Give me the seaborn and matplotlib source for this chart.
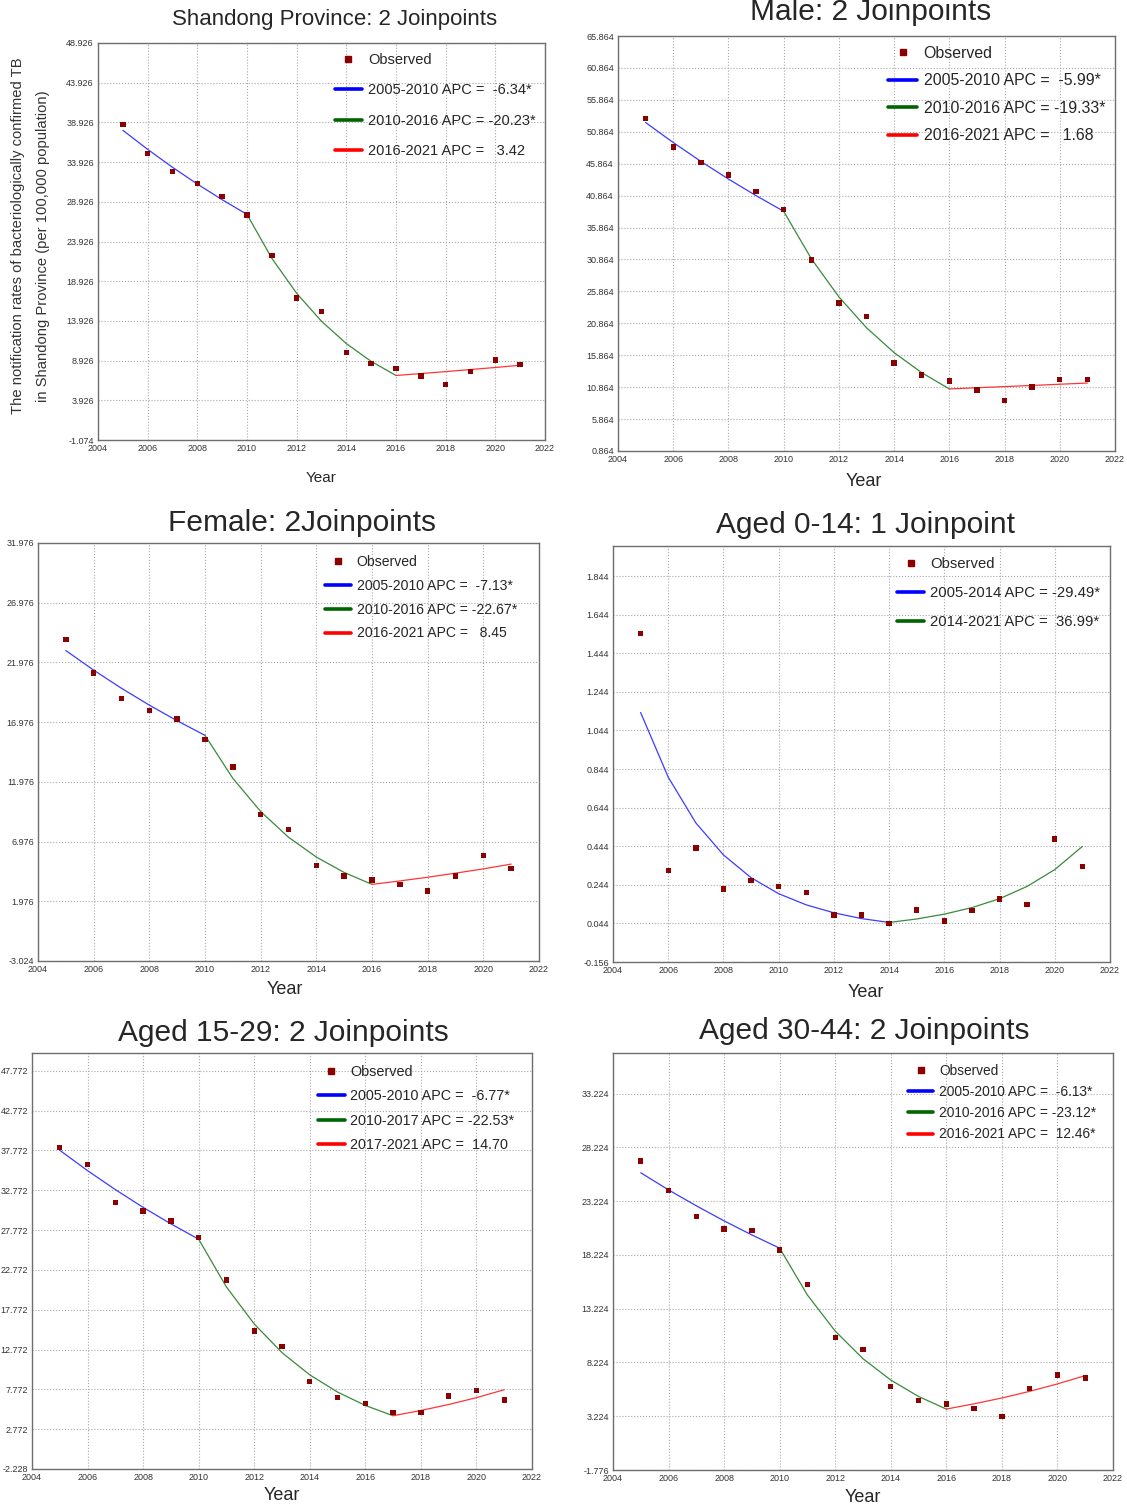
import numpy as np
import pandas as pd
import matplotlib
matplotlib.use('Agg')
import matplotlib.pyplot as plt
import seaborn as sns
from matplotlib.lines import Line2D

sns.set_style('white')
plt.rcParams['font.family'] = ['Liberation Sans', 'DejaVu Sans']

years = list(range(2005, 2022))

# observed rates (per 100,000)
obs_total = [38.69, 35.03, 32.75, 31.23, 29.59, 27.27, 22.14, 16.79, 15.10, 9.92, 8.53, 7.90, 6.97, 5.88, 7.56, 8.99, 8.45]
obs_male = [52.99, 48.50, 46.05, 44.07, 41.46, 38.65, 30.77, 24.05, 21.91, 14.67, 12.74, 11.85, 10.44, 8.77, 10.86, 12.11, 12.06]
obs_female = [23.92, 21.10, 18.95, 17.95, 17.25, 15.52, 13.21, 9.22, 7.99, 4.98, 4.09, 3.75, 3.39, 2.84, 4.09, 5.79, 4.70]
obs_0_14 = [1.545, 0.317, 0.434, 0.223, 0.267, 0.235, 0.204, 0.087, 0.087, 0.042, 0.114, 0.056, 0.112, 0.171, 0.142, 0.481, 0.340]
obs_15_29 = [38.16, 36.03, 31.23, 30.18, 28.93, 26.80, 21.50, 15.10, 13.14, 8.72, 6.75, 5.96, 4.83, 4.83, 6.92, 7.59, 6.42]
obs_30_44 = [26.94, 24.19, 21.77, 20.63, 20.50, 18.68, 15.46, 10.53, 9.42, 5.99, 4.69, 4.35, 3.97, 3.20, 5.83, 7.07, 6.79]

# fitted (joinpoint model) values
fit_total = [37.93, 35.53, 33.27, 31.16, 29.19, 27.34, 21.81, 17.40, 13.88, 11.07, 8.83, 7.05, 7.29, 7.54, 7.80, 8.06, 8.34]
fit_male = [52.31, 49.18, 46.23, 43.46, 40.86, 38.41, 30.99, 25.00, 20.17, 16.27, 13.13, 10.59, 10.77, 10.95, 11.13, 11.32, 11.51]
fit_female = [22.97, 21.33, 19.81, 18.40, 17.09, 15.87, 12.27, 9.49, 7.34, 5.68, 4.39, 3.39, 3.68, 3.99, 4.33, 4.69, 5.09]
fit_0_14 = [1.137, 0.802, 0.565, 0.399, 0.281, 0.198, 0.140, 0.099, 0.069, 0.049, 0.067, 0.092, 0.126, 0.172, 0.236, 0.323, 0.443]
fit_15_29 = [37.79, 35.23, 32.85, 30.62, 28.55, 26.62, 20.62, 15.98, 12.38, 9.59, 7.43, 5.75, 4.46, 5.12, 5.87, 6.73, 7.72]
fit_30_44 = [25.86, 24.27, 22.79, 21.39, 20.08, 18.85, 14.49, 11.14, 8.57, 6.59, 5.06, 3.89, 4.38, 4.92, 5.54, 6.23, 7.00]

titles = ['Shandong Province: 2 Joinpoints', 'Male: 2 Joinpoints', 'Female: 2Joinpoints',
          'Aged 0-14: 1 Joinpoint', 'Aged 15-29: 2 Joinpoints', 'Aged 30-44: 2 Joinpoints']
joinpoints = [[2005, 2010, 2016, 2021], [2005, 2010, 2016, 2021], [2005, 2010, 2016, 2021],
              [2005, 2014, 2021], [2005, 2010, 2017, 2021], [2005, 2010, 2016, 2021]]
seg_labels = [
    ['2005-2010 APC =  -6.34*', '2010-2016 APC = -20.23*', '2016-2021 APC =   3.42'],
    ['2005-2010 APC =  -5.99*', '2010-2016 APC = -19.33*', '2016-2021 APC =   1.68'],
    ['2005-2010 APC =  -7.13*', '2010-2016 APC = -22.67*', '2016-2021 APC =   8.45'],
    ['2005-2014 APC = -29.49*', '2014-2021 APC =  36.99*'],
    ['2005-2010 APC =  -6.77*', '2010-2017 APC = -22.53*', '2017-2021 APC =  14.70'],
    ['2005-2010 APC =  -6.13*', '2010-2016 APC = -23.12*', '2016-2021 APC =  12.46*'],
]
observed = [obs_total, obs_male, obs_female, obs_0_14, obs_15_29, obs_30_44]
fitted = [fit_total, fit_male, fit_female, fit_0_14, fit_15_29, fit_30_44]

# layout in pixels: axes box (left, top, right, bottom), y range, tick step
W, H = 1127, 1508
boxes = [(98, 43, 545, 440), (618, 36, 1115, 451), (38, 543, 539, 961),
         (613, 546, 1110, 962), (32, 1053, 532, 1469), (613, 1053, 1113, 1470)]
ylims = [(-1.074, 48.926), (0.864, 65.864), (-3.024, 31.976),
         (-0.156, 2.0), (-2.228, 50.0), (-1.776, 37.0)]
ysteps = [5, 5, 5, 0.2, 5, 5]
title_pos = [(335, 20), (871, 12), (302, 523), (866, 525), (283, 1033), (864, 1031)]
title_size = [16, 21.5, 21.5, 21.5, 21.5, 21.5]
year_pos = [(321, 478), (864, 481), (285, 989), (866, 993), (282, 1495), (863, 1498)]
# legend: handle left x, top y, font size, label spacing
leg_cfg = [(335, 53, 10.5, 1.12), (888, 46, 11.4, 0.78), (325, 555, 10.1, 0.7),
           (897, 557, 10.7, 1.0), (318, 1065, 10.4, 0.72), (908, 1064, 9.9, 0.52)]

seg_colors = ['#3c3cff', '#3a8a3a', '#ff3535']
leg_colors = ['#0000ff', '#006400', '#ff0000']

fig = plt.figure(figsize=(W / 100, H / 100), dpi=100)

for i in range(6):
    l, t, r, b = boxes[i]
    ax = fig.add_axes([l / W, 1 - b / H, (r - l) / W, (b - t) / H])
    obs_df = pd.DataFrame({'Year': years, 'Rate': observed[i]})
    fit_df = pd.DataFrame({'Year': years, 'Fit': fitted[i]})
    jp = joinpoints[i]
    for k in range(len(jp) - 1):
        seg = fit_df[(fit_df['Year'] >= jp[k]) & (fit_df['Year'] <= jp[k + 1])]
        sns.lineplot(data=seg, x='Year', y='Fit', color=seg_colors[k], linewidth=0.9, ax=ax)
    sns.scatterplot(data=obs_df, x='Year', y='Rate', marker='s', s=15, color='#8b0000',
                    edgecolor='none', ax=ax, zorder=5)

    lo, hi = ylims[i]
    ax.set_xlim(2004, 2022)
    ax.set_ylim(lo, hi)
    ax.set_xticks(range(2004, 2023, 2))
    yt = np.arange(lo, hi + 1e-6, ysteps[i])
    ax.set_yticks(yt)
    ax.set_yticklabels(['%.3f' % v for v in yt])
    for lab in ax.get_xticklabels() + ax.get_yticklabels():
        lab.set_fontsize(6.5)
        lab.set_color('#333333')
    ax.tick_params(length=2, pad=1, color='#777777')
    ax.grid(True, linestyle=':', color='#a8a8a8', linewidth=0.8)
    for sp in ax.spines.values():
        sp.set_color('#6e6e6e')
        sp.set_linewidth(1.0)
    ax.set_xlabel('')
    ax.set_ylabel('')

    handles = [Line2D([], [], marker='s', color='#8b0000', linestyle='none', markersize=5)]
    for k, lab in enumerate(seg_labels[i]):
        handles.append(Line2D([], [], color=leg_colors[k], linewidth=2.6))
    hx, hy, fs, ls = leg_cfg[i]
    ax.legend(handles=handles, labels=['Observed'] + seg_labels[i], loc='upper left',
              bbox_to_anchor=((hx - l) / (r - l), 1 - (hy - t) / (b - t)), frameon=False,
              prop={'size': fs}, borderpad=0, borderaxespad=0,
              handlelength=1.85, handletextpad=0.4, labelspacing=ls)

    tx, ty = title_pos[i]
    fig.text(tx / W, 1 - ty / H, titles[i], ha='center', va='center', fontsize=title_size[i])
    yx, yy = year_pos[i]
    fig.text(yx / W, 1 - yy / H, 'Year', ha='center', va='center', fontsize=11 if i == 0 else 13)

fig.text(18 / W, 1 - 236 / H, 'The notification rates of bacteriologically confirmed TB',
         rotation=90, ha='center', va='center', fontsize=10.6, color='#333333')
fig.text(43 / W, 1 - 246 / H, 'in Shandong Province (per 100,000 population)',
         rotation=90, ha='center', va='center', fontsize=10.6, color='#333333')

fig.savefig('out.png', dpi=100, facecolor='white')
